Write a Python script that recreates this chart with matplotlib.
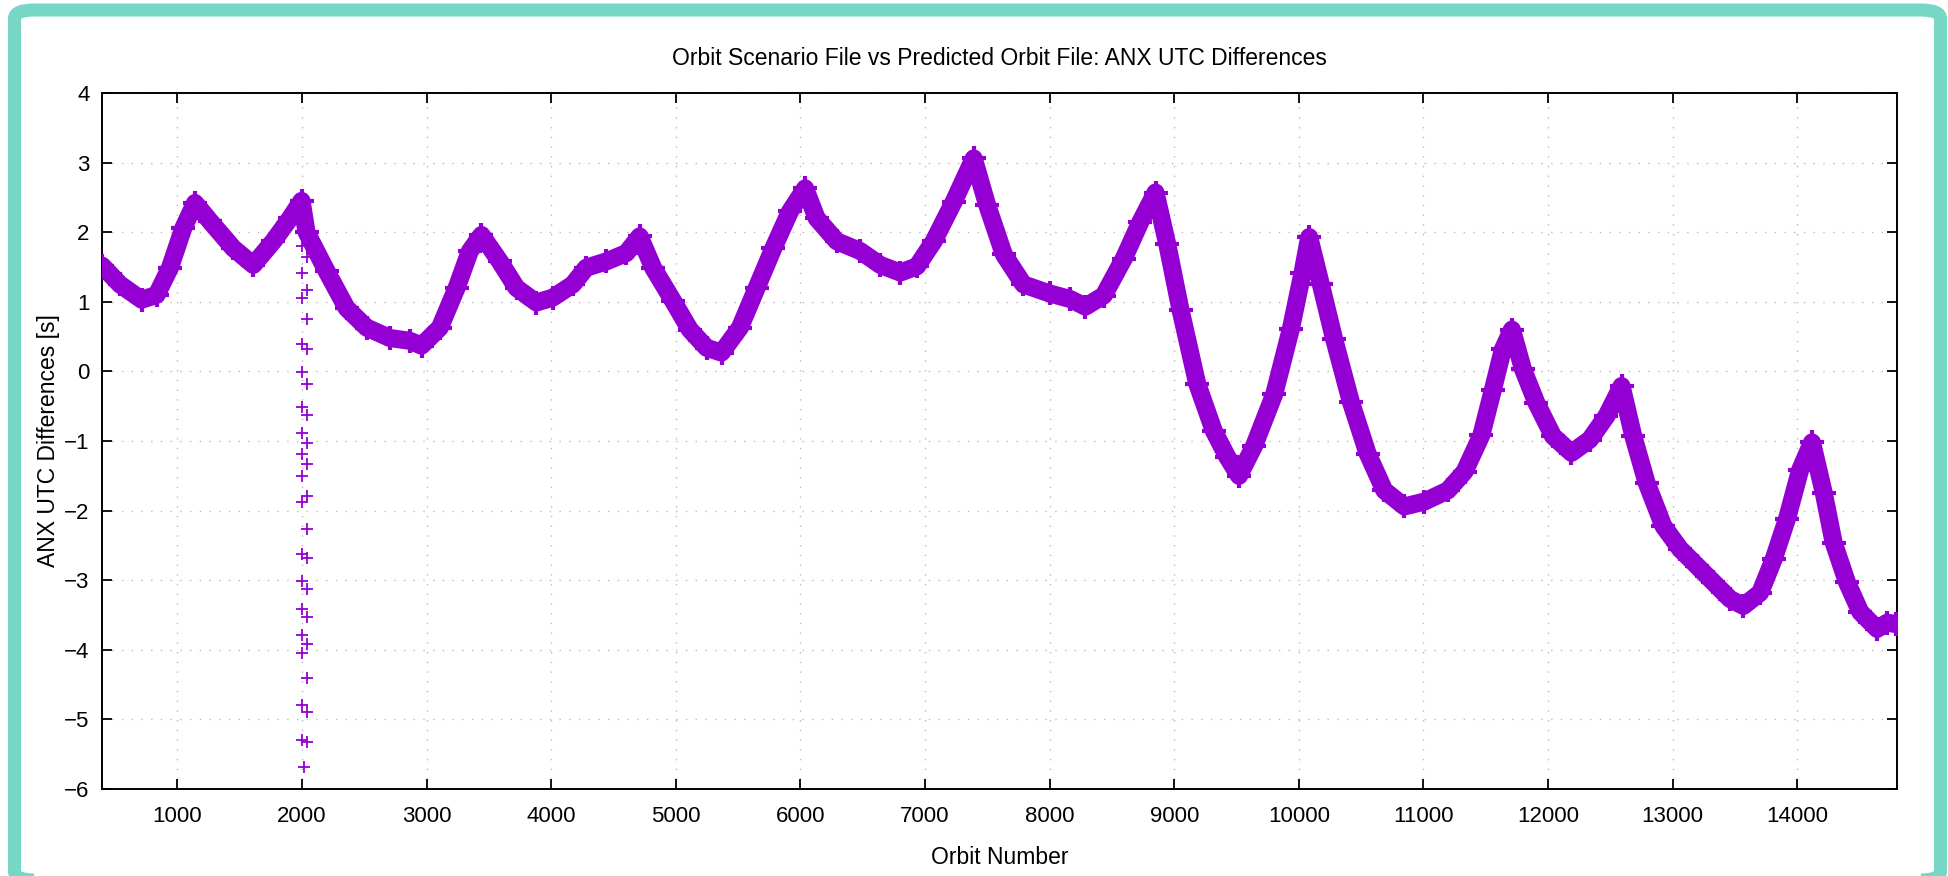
from matplotlib import pyplot as plt
from matplotlib.patches import FancyBboxPatch

plt.rcParams['font.family'] = ['Liberation Sans', 'DejaVu Sans']

# main ANX UTC difference curve (orbit number, seconds)
orbit = [396, 540, 714, 834, 941, 1048, 1142, 1262, 1449, 1610, 1770, 1904,
         1997, 2037, 2198, 2358, 2519, 2706, 2866, 2960, 3107, 3241, 3348,
         3441, 3588, 3722, 3882, 4013, 4174, 4281, 4442, 4603, 4710, 4818,
         4979, 5113, 5247, 5367, 5515, 5649, 5783, 5917, 6038, 6131, 6292,
         6480, 6641, 6802, 6936, 7070, 7231, 7391, 7499, 7633, 7790, 8000,
         8166, 8287, 8434, 8595, 8729, 8850, 8944, 9051, 9185, 9319, 9426,
         9520, 9641, 9802, 9936, 10029, 10083, 10177, 10284, 10418, 10552,
         10686, 10847, 11008, 11196, 11330, 11464, 11558, 11638, 11710,
         11799, 11906, 12040, 12188, 12335, 12469, 12590, 12684, 12791,
         12925, 13059, 13193, 13327, 13461, 13568, 13702, 13810, 13917,
         14024, 14118, 14212, 14292, 14399, 14507, 14641, 14721, 14790]
diff = [1.52, 1.25, 1.03, 1.10, 1.49, 2.06, 2.42, 2.16, 1.77, 1.53, 1.87, 2.20,
        2.45, 2.0, 1.44, 0.91, 0.63, 0.48, 0.44, 0.37, 0.63, 1.20, 1.73,
        1.96, 1.58, 1.20, 0.99, 1.06, 1.25, 1.49, 1.58, 1.70, 1.94, 1.49,
        1.01, 0.60, 0.34, 0.27, 0.63, 1.20, 1.77, 2.30, 2.63, 2.20, 1.87,
        1.73, 1.53, 1.42, 1.51, 1.87, 2.44, 3.06, 2.39, 1.68, 1.25, 1.12,
        1.04, 0.93, 1.09, 1.62, 2.15, 2.57, 1.83, 0.88, -0.18, -0.86, -1.23,
        -1.50, -1.07, -0.33, 0.61, 1.41, 1.93, 1.25, 0.46, -0.44, -1.18,
        -1.71, -1.94, -1.87, -1.71, -1.44, -0.92, -0.26, 0.32, 0.60,
        0.03, -0.45, -0.93, -1.17, -0.98, -0.64, -0.21, -0.93, -1.60,
        -2.22, -2.55, -2.79, -3.03, -3.27, -3.37, -3.18, -2.70, -2.12,
        -1.41, -1.02, -1.74, -2.46, -3.03, -3.46, -3.70, -3.61, -3.63]

# scattered outliers around orbit 2000
out_orbit = [2038, 1998, 2038, 1998, 2038, 1998, 2038, 1998, 2038, 1998,
             2038, 1998, 2038, 1998, 2038, 1998, 2038, 1998, 2038, 1998,
             2038, 1998, 2038, 1998, 2038, 1998, 2038, 1998, 2038, 1998,
             2038, 1998, 2038, 1998, 2038, 2018]
out_diff = [2.16, 1.80, 1.64, 1.42, 1.17, 1.06, 0.76, 0.40, 0.32, -0.01,
            -0.18, -0.51, -0.63, -0.88, -1.03, -1.18, -1.33, -1.50, -1.79, -1.88,
            -2.26, -2.62, -2.68, -3.01, -3.12, -3.42, -3.53, -3.78, -3.92, -4.05,
            -4.40, -4.79, -4.90, -5.29, -5.32, -5.68]

x_ticks = list(range(1000, 15000, 1000))
y_ticks = list(range(-6, 5))

purple = '#9400D3'
teal = '#76D7C4'

fig = plt.figure(figsize=(19.49, 8.76), dpi=100)
ax = fig.add_axes([0.0523, 0.0993, 0.921, 0.7945])

# thick band made of a wide line plus "+" marks, like the gnuplot point cloud
ax.plot(orbit, diff, color=purple, lw=13, solid_joinstyle='round',
        solid_capstyle='round', zorder=3)
ax.plot(orbit, diff, '+', color=purple, ms=17, mew=3, zorder=3)
ax.plot(out_orbit, out_diff, '+', color=purple, ms=8, mew=1.3, zorder=3)

ax.set_xlim(395, 14800)
ax.set_ylim(-6, 4)
ax.set_xticks(x_ticks)
ax.set_yticks(y_ticks)
ax.grid(True, color='#bbbbbb', lw=1.0, linestyle=(0, (1, 6)))
ax.tick_params(direction='in', length=7, width=1.3, labelsize=16,
               top=True, right=True)
ax.tick_params(axis='y', pad=9)
ax.tick_params(axis='x', pad=12)
for s in ax.spines.values():
    s.set_linewidth(1.4)

ax.set_title('Orbit Scenario File vs Predicted Orbit File: ANX UTC Differences',
             fontsize=16.5, pad=20)
ax.set_xlabel('Orbit Number', fontsize=16.5, labelpad=14)
ax.set_ylabel('ANX UTC Differences [s]', fontsize=16.5)
ax.yaxis.set_label_coords(-0.0235, 0.5)

# rounded teal frame round the whole picture
frame = FancyBboxPatch((14.5 / 1949, -4 / 876), 1926 / 1949, 870 / 876,
                       boxstyle='round,pad=0,rounding_size=0.01',
                       transform=fig.transFigure, facecolor='none',
                       edgecolor=teal, lw=9.4, zorder=10)
fig.patches.append(frame)

fig.savefig('out.png', dpi=100)
